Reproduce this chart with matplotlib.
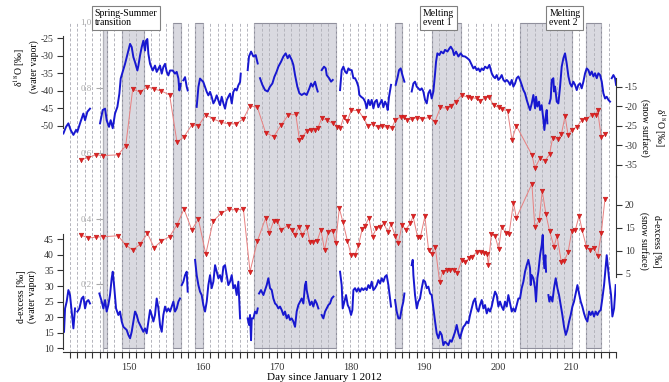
import numpy as np
import matplotlib.pyplot as plt
from matplotlib.ticker import MultipleLocator

plt.rcParams['font.family'] = ['Liberation Serif', 'DejaVu Serif']
plt.rcParams['mathtext.fontset'] = 'stix'
plt.rcParams['axes.unicode_minus'] = False

nan = np.nan

# shaded periods (day of year 2012)
periods = [(146.5, 147.0), (149, 152), (156, 157), (159, 160), (167, 178),
           (186, 187), (191, 195), (203, 210), (212, 214)]
sample_days = list(range(142, 216))

# --- water vapour d18O (permil), NaN marks gaps in the record ---
vap_d18o_day = [
    141.10, 141.46, 141.78, 142.09, 142.46, 142.82, 142.9,
    143.00, 143.36, 143.81, 144.04, 144.35, 144.71, 145.4,
    146.07, 146.43, 146.75, 146.97, 147.29, 147.51, 147.79, 148.10, 148.42, 148.69,
    148.87, 149.14, 149.46, 149.68, 149.91, 150.14, 150.36, 150.59, 150.81, 151.13,
    151.27, 151.49, 151.72, 151.94, 152.17, 152.30, 152.48, 152.62, 152.85, 153.21,
    153.52, 153.75, 153.98, 154.20, 154.43, 154.65, 154.88, 155.11, 155.33, 155.56,
    155.92, 156.23, 156.46, 156.69, 156.82, 157.00, 157.2,
    157.36, 157.59, 157.82, 157.95, 158.5,
    159.17, 159.40, 159.62, 159.85, 160.07, 160.30, 160.53, 160.75, 160.98, 161.20,
    161.43, 161.66, 161.88, 162.11, 162.33, 162.56, 162.79, 163.01, 163.24, 163.46,
    163.69, 163.92, 164.14, 164.37, 164.59, 164.82, 165.05, 165.14, 165.6,
    166.08, 166.26, 166.54, 166.85, 167.17, 167.44, 167.6,
    167.75, 168.07, 168.43, 168.79, 169.11, 169.43, 169.70, 170.01, 170.24, 170.60,
    170.92, 171.23, 171.50, 171.73, 172.05, 172.27, 172.50, 172.81, 173.09, 173.40,
    173.76, 174.08, 174.44, 174.67, 174.89, 175.21, 175.44, 175.57, 175.8,
    176.11, 176.43, 176.66, 176.79, 177.11, 177.38, 177.61, 178.1,
    178.60, 178.82, 179.05, 179.28, 179.50, 179.73, 179.95, 180.18, 180.41, 180.63,
    180.86, 181.08, 181.22, 181.45, 181.76, 181.99, 182.21, 182.44, 182.66, 182.89,
    183.12, 183.34, 183.57, 183.79, 184.02, 184.25, 184.47, 184.70, 184.92, 185.06,
    185.24, 185.51, 185.8,
    186.14, 186.41, 186.59, 186.82, 187.05, 187.32, 187.8,
    188.31, 188.54, 188.76, 188.99, 189.21, 189.44, 189.67, 189.89, 190.12, 190.35,
    190.57, 190.80, 191.02, 191.25, 191.48, 191.61, 191.79, 192.06, 192.29, 192.60,
    192.83, 193.15, 193.42, 193.60, 193.87, 194.05, 194.32, 194.64, 194.95, 195.22,
    195.54, 195.86, 196.13, 196.44, 196.67, 196.90, 197.12, 197.35, 197.57, 197.80,
    198.03, 198.25, 198.57, 198.84, 199.16, 199.38, 199.61, 199.83, 200.06, 200.28,
    200.51, 200.74, 200.96, 201.19, 201.41, 201.64, 201.87, 202.09, 202.32, 202.54,
    202.77, 202.99, 203.22, 203.45, 203.67, 203.90, 204.12, 204.35, 204.58, 204.80,
    205.03, 205.16, 205.34, 205.57, 205.71, 205.93, 206.16, 206.29, 206.47, 206.61,
    206.70, 206.85,
    206.97, 207.15, 207.29, 207.51, 207.60, 207.74, 207.97, 208.19, 208.42, 208.64,
    208.87, 209.09, 209.32, 209.55, 209.77, 210.00, 210.22, 210.45, 210.68, 210.90,
    211.13, 211.35, 211.58, 211.81, 212.03, 212.26, 212.48, 212.71, 212.94, 213.16,
    213.39, 213.61, 213.84, 214.07, 214.29, 214.52, 214.74, 214.97, 215.19, 215.3,
    215.42, 215.65, 215.87, 216.01]
vap_d18o = [
    -52.2, -50.3, -49.3, -51.2, -52.6, -51.2, nan,
    -51.7, -49.3, -46.5, -48.4, -46.0, -45.1, nan,
    -49.3, -45.5, -45.1, -48.4, -50.3, -48.4, -50.7, -46.5, -44.6, -40.8,
    -36.5, -34.6, -32.3, -30.4, -28.5, -26.6, -27.5, -30.4, -31.8, -34.2,
    -32.8, -29.9, -27.5, -25.7, -28.5, -25.7, -25.2, -29.4, -32.3, -34.2,
    -32.8, -34.6, -33.7, -32.8, -35.1, -33.2, -32.3, -34.6, -35.6, -34.2,
    -34.2, -35.1, -34.6, -36.5, -39.9, -38.0, nan,
    -37.0, -36.1, -38.9, -39.9, nan,
    -44.6, -38.9, -36.5, -37.0, -37.5, -38.9, -40.3, -41.3, -40.3, -41.7,
    -43.6, -42.7, -41.3, -42.7, -44.1, -41.7, -43.6, -45.1, -42.7, -41.7,
    -40.8, -43.6, -40.3, -39.4, -39.9, -38.4, -37.5, -35.1, nan,
    -34.1, -30.2, -28.8, -30.2, -29.8, -32.2, nan,
    -36.4, -38.3, -39.8, -40.2, -38.8, -37.9, -36.0, -34.5, -33.1, -31.7,
    -30.2, -29.3, -30.7, -29.8, -31.2, -32.6, -35.5, -38.8, -40.7, -41.2,
    -40.7, -41.2, -39.3, -37.9, -38.8, -37.4, -39.3, -40.2, nan,
    -34.1, -33.1, -33.6, -35.5, -36.4, -37.4, -36.9, nan,
    -39.8, -34.1, -33.1, -34.5, -35.0, -33.6, -34.1, -34.1, -36.4, -36.4,
    -37.4, -38.8, -41.2, -41.7, -42.2, -43.1, -45.0, -42.6, -44.1, -42.6,
    -45.0, -43.1, -42.6, -44.7, -43.6, -42.6, -44.7, -43.1, -44.1, -45.5,
    -41.7, -38.3, nan,
    -38.3, -36.0, -34.1, -33.6, -35.5, -37.4, nan,
    -40.2, -37.9, -37.4, -38.8, -39.3, -39.8, -39.3, -40.2, -42.6, -43.6,
    -40.7, -39.8, -42.2, -40.2, -35.0, -31.7, -29.3, -29.8, -28.8, -29.3,
    -28.3, -28.8, -27.9, -27.4, -28.3, -29.8, -28.8, -30.2, -29.3, -30.1,
    -30.2, -30.7, -31.2, -32.6, -33.6, -33.1, -34.1, -33.6, -34.5, -33.6,
    -34.1, -33.1, -33.6, -32.6, -35.0, -35.9, -36.4, -35.5, -36.9, -36.4,
    -35.5, -36.9, -37.4, -36.9, -37.4, -38.3, -36.9, -38.8, -37.9, -36.4,
    -35.9, -36.9, -38.3, -39.8, -40.7, -42.6, -44.1, -45.5, -43.6, -41.2,
    -45.0, -41.7, -44.5, -43.1, -45.5, -44.1, -48.3, -51.2, -47.4, -45.5,
    -49.3, nan,
    -43.6, -42.2, -36.9, -36.4, -40.2, -38.8, -43.1, -43.6, -38.8, -33.1,
    -30.7, -29.3, -32.2, -35.9, -37.9, -38.8, -37.4, -38.3, -39.8, -38.3,
    -37.9, -39.3, -37.4, -35.0, -33.6, -34.1, -35.5, -34.5, -35.9, -35.0,
    -36.4, -35.0, -35.5, -37.4, -40.7, -42.2, -41.7, -42.6, -43.1, nan,
    -36.4, -35.5, -36.4, -38.3]

# --- water vapour d-excess (permil) ---
vap_dxs_day = [
    141.19, 141.33, 141.55, 141.78, 142.00, 142.23, 142.46, 142.68, 142.85,
    143.00, 143.27, 143.58, 143.81, 144.04, 144.26, 144.49, 144.71, 145.4,
    145.98, 146.30, 146.52, 146.75, 146.97, 147.20, 147.42, 147.65, 147.79, 147.97,
    148.24, 148.55, 148.78, 149.01, 149.23, 149.46, 149.68, 149.91, 150.14, 150.36,
    150.59, 150.81, 151.04, 151.27, 151.49, 151.72, 151.94, 152.17, 152.39, 152.62,
    152.85, 153.07, 153.30, 153.52, 153.75, 153.98, 154.20, 154.43, 154.65, 154.88,
    155.11, 155.33, 155.56, 155.78, 156.01, 156.23, 156.46, 156.69, 156.91, 157.05,
    157.14, 157.36, 157.59, 157.82, 157.95, 158.4,
    158.95, 159.17, 159.40, 159.62, 159.85, 160.07, 160.30, 160.53, 160.75, 160.98,
    161.20, 161.43, 161.66, 161.88, 162.11, 162.33, 162.56, 162.79, 163.01, 163.24,
    163.46, 163.69, 163.92, 164.14, 164.37, 164.59, 164.82, 165.05, 165.6,
    166.08, 166.26, 166.40, 166.54, 166.63, 166.85, 167.08, 167.30, 167.44, 167.53,
    167.62, 167.89, 168.21, 168.43, 168.66, 168.88, 169.11, 169.34, 169.56, 169.79,
    170.01, 170.24, 170.47, 170.69, 170.92, 171.14, 171.37, 171.60, 171.82, 172.05,
    172.27, 172.50, 172.72, 172.95, 173.18, 173.40, 173.63, 173.85, 173.99, 174.08,
    174.31, 174.53, 174.76, 174.98, 175.21, 175.44, 175.66, 175.9,
    176.11, 176.34, 176.57, 176.79, 177.02, 177.24, 177.47, 177.70, 178.1,
    178.60, 178.82, 178.96, 179.19, 179.41, 179.64, 179.86, 180.09, 180.27, 180.41,
    180.63, 180.86, 181.08, 181.31, 181.54, 181.76, 181.99, 182.21, 182.44, 182.66,
    182.89, 183.12, 183.34, 183.57, 183.79, 184.02, 184.25, 184.47, 184.70, 184.92,
    185.15, 185.37, 185.51, 185.8,
    186.05, 186.28, 186.51, 186.73, 186.96, 187.18, 187.32, 187.8,
    188.31, 188.45, 188.54, 188.76, 189.00, 189.21, 189.44, 189.67, 189.89, 190.12,
    190.35, 190.57, 190.80, 191.02, 191.25, 191.48, 191.70, 191.93, 192.15, 192.38,
    192.60, 192.83, 193.06, 193.28, 193.51, 193.73, 193.96, 194.19, 194.41, 194.64,
    194.86, 195.09, 195.32, 195.54, 195.77, 195.99, 196.22, 196.44, 196.67, 196.90,
    197.12, 197.35, 197.57, 197.80, 198.03, 198.25, 198.48, 198.70, 198.93, 199.15,
    199.38, 199.61, 199.83, 200.06, 200.28, 200.51, 200.74, 200.96, 201.19, 201.41,
    201.64, 201.87, 202.09, 202.32, 202.54, 202.77, 202.99, 203.22, 203.45, 203.67,
    203.90, 204.12, 204.35, 204.44, 204.58, 204.80, 205.03, 205.16, 205.34, 205.48,
    205.71, 205.93, 206.07, 206.16, 206.29, 206.43, 206.52, 206.7,
    206.84, 206.97, 207.15, 207.38, 207.60, 207.83, 208.06, 208.28, 208.51, 208.73,
    208.96, 209.19, 209.41, 209.64, 209.86, 210.09, 210.31, 210.54, 210.77, 210.99,
    211.22, 211.44, 211.67, 211.89, 212.12, 212.35, 212.57, 212.80, 213.02, 213.25,
    213.48, 213.70, 213.93, 214.15, 214.38, 214.61, 214.74, 214.88, 215.10, 215.33,
    215.51, 215.74, 215.96]
vap_dxs = [
    15.3, 22.8, 25.0, 28.7, 27.1, 21.8, 16.4, 22.8, nan,
    21.8, 22.8, 26.0, 26.6, 22.8, 25.0, 25.5, 24.4, nan,
    27.6, 25.0, 22.8, 25.5, 21.8, 23.9, 27.1, 32.5, 34.6, 30.3,
    22.8, 20.7, 21.8, 18.6, 16.9, 16.4, 15.9, 14.3, 13.2, 15.3,
    18.6, 21.8, 20.7, 18.6, 17.5, 16.4, 15.3, 16.4, 14.8, 18.6,
    22.3, 20.7, 18.6, 20.7, 26.0, 22.8, 17.5, 15.3, 20.7, 23.4,
    21.8, 22.8, 21.8, 23.4, 25.0, 21.8, 22.8, 25.0, 26.0, nan,
    30.3, 31.4, 33.5, 34.6, 28.2, nan,
    38.4, 33.5, 30.3, 28.2, 27.1, 23.9, 21.8, 25.0, 30.3, 33.5,
    29.3, 31.4, 36.7, 34.6, 32.5, 33.5, 31.4, 36.2, 36.7, 33.5,
    30.3, 31.4, 33.5, 29.3, 30.3, 27.1, 31.4, 19.6, nan,
    19.6, 17.5, 20.7, 12.6, 19.6, 19.6, 21.8, 21.2, 22.8, nan,
    27.6, 28.7, 27.1, 28.7, 30.3, 32.5, 29.3, 28.7, 26.0, 24.4,
    23.9, 22.8, 23.4, 22.3, 20.7, 21.8, 19.6, 20.7, 19.1, 19.6,
    18.6, 16.9, 21.8, 23.9, 25.0, 26.0, 24.4, 30.3, 31.4, 28.7,
    26.0, 23.9, 25.0, 23.4, 25.5, 24.4, 22.8, nan,
    20.7, 19.6, 21.8, 22.8, 23.9, 24.4, 26.0, 26.6, nan,
    34.6, 30.3, 22.8, 25.0, 27.1, 23.9, 22.8, 20.7, 22.3, 28.7,
    29.3, 28.2, 29.3, 28.2, 29.3, 28.7, 29.3, 28.7, 30.3, 29.3,
    31.4, 28.7, 29.3, 30.3, 31.9, 30.8, 32.5, 31.4, 33.0, 33.5,
    30.3, 26.0, 23.4, nan,
    25.5, 21.8, 19.6, 19.6, 22.8, 25.0, 27.6, nan,
    36.7, 38.4, 33.5, 27.1, 22.8, 25.0, 26.0, 29.3, 31.9, 31.4,
    29.3, 29.8, 27.6, 27.1, 22.8, 18.6, 14.8, 13.2, 15.3, 14.3,
    11.0, 12.1, 11.6, 11.0, 12.6, 12.1, 13.7, 15.3, 17.5, 14.8,
    13.2, 15.3, 16.9, 17.5, 18.6, 18.0, 20.7, 22.8, 25.0, 26.0,
    22.8, 21.8, 23.9, 25.5, 22.8, 23.9, 21.2, 22.8, 21.8, 23.4,
    26.0, 28.2, 27.1, 23.4, 25.0, 23.4, 22.3, 25.0, 23.4, 27.1,
    24.4, 21.8, 22.8, 21.8, 23.9, 26.0, 26.0, 29.3, 31.4, 34.6,
    36.7, 38.4, 35.7, 30.3, 33.5, 32.5, 29.3, 25.0, 32.5, 34.6,
    39.9, 43.2, 46.4, 39.9, 35.7, 39.9, 34.6, nan,
    27.1, 25.0, 26.6, 25.0, 29.3, 32.5, 29.3, 27.1, 23.9, 20.7,
    16.9, 14.3, 15.9, 18.6, 20.7, 23.4, 25.0, 27.6, 30.3, 27.6,
    25.0, 23.4, 21.2, 19.6, 18.6, 21.8, 20.7, 21.8, 20.2, 21.8,
    20.7, 21.8, 22.3, 26.0, 30.3, 36.2, 39.9, 36.7, 31.4, 27.1,
    20.2, 22.8, 30.3]

# --- snow surface samples ---
snow_d18o_day = [
    143.45, 144.5, 145.5, 146.5, 148.5, 149.55, 150.5, 151.5, 152.5, 153.4,
    154.4, 155.5, 156.5, 157.45, 158.5, 159.4, 160.4, 161.4, 162.5, 163.5,
    164.5, 165.5, 166.4, 167.4, 168.5, 169.6, 170.6, 171.6, 172.6, 173.1,
    173.5, 174.1, 174.6, 175.2, 175.6, 176.1, 176.8, 177.6, 178.2, 178.6,
    179.1, 179.6, 180.1, 181.1, 181.8, 182.4, 183.0, 183.7, 184.3, 184.9,
    185.6, 186.1, 186.8, 187.2, 187.7, 188.3, 189.0, 189.7, 190.7, 191.45,
    192.2, 193.1, 193.6, 194.3, 195.1, 195.9, 196.4, 197.1, 197.6, 198.3,
    198.8, 199.4, 200.1, 200.5, 201.3, 201.9, 202.5, 204.6, 205.0, 205.7,
    206.4, 207.0, 207.4, 208.1, 208.6, 209.1, 209.5, 210.0, 210.7, 211.4,
    212.0, 212.7, 213.3, 213.5, 214.0, 214.5]
snow_d18o = [
    -33.7, -33.1, -32.4, -32.6, -32.4, -30.1, -15.6, -16.4, -15.0, -15.6,
    -16.1, -17.1, -29.2, -27.8, -24.8, -25.0, -22.2, -23.2, -24.1, -24.5,
    -24.5, -23.2, -19.9, -20.3, -26.7, -27.8, -24.8, -22.2, -22.1, -28.6,
    -27.8, -26.3, -26.1, -26.1, -25.5, -23.1, -23.5, -24.4, -25.2, -25.6,
    -22.8, -23.8, -21.0, -21.1, -23.1, -25.0, -24.5, -25.4, -25.0, -25.4,
    -25.6, -23.5, -22.7, -22.8, -23.5, -23.3, -22.9, -23.3, -22.8, -24.0,
    -20.3, -20.5, -19.9, -18.8, -17.1, -17.7, -17.8, -18.0, -18.6, -17.8,
    -17.6, -19.7, -20.3, -20.8, -21.1, -28.6, -25.0, -32.4, -35.8, -33.3,
    -33.9, -32.2, -28.2, -28.4, -27.1, -22.5, -27.3, -26.1, -25.2, -23.5,
    -23.3, -22.2, -22.2, -21.0, -27.9, -27.2]

snow_dxs_day = [
    143.45, 144.5, 145.5, 146.5, 148.5, 149.55, 150.5, 151.5, 152.5, 153.4,
    154.4, 155.5, 156.5, 157.45, 158.5, 159.4, 160.4, 161.4, 162.5, 163.5,
    164.5, 165.5, 166.4, 167.4, 168.5, 169.0, 169.6, 170.1, 170.6, 171.5,
    172.1, 172.5, 173.0, 173.5, 174.1, 174.5, 174.95, 175.5, 176.0, 176.5,
    177.0, 177.6, 178.0, 178.5, 179.0, 179.6, 180.1, 180.6, 181.1, 181.6,
    182.0, 182.5, 183.0, 183.5, 184.0, 184.5, 185.1, 185.5, 186.1, 186.5,
    187.0, 187.5, 188.1, 188.5, 189.1, 189.5, 190.1, 190.6, 191.05, 191.5,
    192.1, 192.5, 193.1, 193.5, 194.1, 194.5, 195.1, 195.5, 196.1, 196.5,
    197.1, 197.7, 198.1, 198.5, 198.7, 199.1, 199.6, 200.1, 200.5, 201.1,
    201.5, 202.1, 202.5, 204.6, 205.0, 205.6, 206.0, 206.5, 207.0, 207.6,
    208.0, 208.6, 209.0, 209.5, 210.0, 210.5, 211.0, 211.4, 212.0, 212.5,
    213.0, 213.5, 214.0, 214.5]
snow_dxs = [
    13.5, 12.8, 13.0, 13.1, 13.3, 11.3, 10.2, 11.5, 13.8, 10.7,
    12.2, 13.1, 15.7, 19.1, 14.6, 16.9, 9.3, 16.5, 18.2, 19.1,
    18.9, 19.1, 5.5, 12.2, 17.1, 13.8, 16.5, 16.5, 14.6, 15.5,
    14.6, 13.5, 15.3, 13.5, 15.1, 12.0, 12.0, 12.2, 14.6, 10.2,
    14.1, 14.3, 11.7, 19.3, 16.2, 12.2, 9.1, 9.1, 11.2, 14.8,
    15.5, 17.2, 13.1, 14.9, 15.1, 16.0, 14.1, 15.8, 13.3, 11.7,
    15.7, 14.6, 16.0, 17.5, 13.1, 13.1, 17.5, 10.2, 9.3, 10.9,
    3.2, 5.5, 5.9, 5.8, 5.9, 5.3, 8.0, 7.5, 8.5, 8.7,
    9.8, 9.7, 9.6, 9.3, 7.0, 13.6, 13.3, 10.4, 15.3, 13.8,
    13.6, 20.5, 17.2, 24.6, 15.1, 16.7, 23.1, 18.0, 14.3, 10.9,
    13.3, 7.5, 7.9, 9.7, 14.3, 14.6, 17.7, 14.6, 10.8, 10.2,
    10.6, 8.9, 13.8, 21.3]

W, H = 669, 382
fig = plt.figure(figsize=(W / 100, H / 100), dpi=100)
rect = [63 / W, 30 / H, 553 / W, 329.7 / H]
xlim = (141.05, 216.0)

# base axes: shaded periods, daily dashed lines, day axis, grey 0-1 scale
ax = fig.add_axes(rect)
ax.set_xlim(*xlim)
ax.set_ylim(-0.0075, 1.0)
for a, b in periods:
    ax.axvspan(a, b, ymin=0.012, ymax=0.999, facecolor='#d9d9e0',
               edgecolor='#8f8f9c', lw=0.8, zorder=1)
for d in sample_days:
    ax.axvline(d, ymin=0, ymax=0.999, color='#b4b4bc', lw=0.7,
               ls=(0, (3, 2)), zorder=2)
ax.spines[['top', 'right']].set_visible(False)
ax.spines['left'].set_position(('data', 146.5))
ax.spines['left'].set_color('#b0b0b8')
ax.set_yticks([0.2, 0.4, 0.6, 0.8, 1.0])
ax.tick_params(axis='y', colors='#a8a8a8', labelsize=6.5, length=5, width=0.8)
ax.xaxis.set_major_locator(MultipleLocator(10))
ax.xaxis.set_minor_locator(MultipleLocator(1))
ax.tick_params(axis='x', which='both', direction='out', length=4, width=0.8,
               labelsize=7.5, pad=4, colors='#333333')
ax.spines['bottom'].set_color('#333333')


def overlay(ylim, side, bounds, ticks):
    a = fig.add_axes(rect)
    a.patch.set_visible(False)
    a.set_xlim(*xlim)
    a.set_ylim(*ylim)
    a.set_xticks([])
    for s in a.spines.values():
        s.set_visible(False)
    sp = a.spines[side]
    sp.set_visible(True)
    sp.set_bounds(*bounds)
    sp.set_color('#333333')
    a.yaxis.set_ticks_position(side)
    a.set_yticks(ticks)
    a.tick_params(axis='y', labelsize=7, length=4, width=0.8, pad=2.5,
                  colors='#333333')
    return a


ax_sd = overlay((-82.77, 1.45), 'right', (-38.0, -12.85), [-35, -30, -25, -20, -15])
ax_sx = overlay((-11.96, 59.7), 'right', (4.3, 26.2), [5, 10, 15, 20])
ax_vd = overlay((-114.63, -20.43), 'left', (-50.7, -24.3), [-50, -45, -40, -35, -30, -25])
ax_vx = overlay((8.81, 114.7), 'left', (9.7, 46.6), [10, 15, 20, 25, 30, 35, 40, 45])

for a, xd, yd in [(ax_sd, snow_d18o_day, snow_d18o), (ax_sx, snow_dxs_day, snow_dxs)]:
    a.plot(xd, yd, color='#e88080', lw=0.7, zorder=3)
    a.plot(xd, yd, ls='none', marker='v', ms=3.3, mfc='#e02222', mec='#c01818',
           mew=0.4, zorder=4)

ax_vd.plot(vap_d18o_day, vap_d18o, color='#1818d0', lw=1.4)
ax_vx.plot(vap_dxs_day, vap_dxs, color='#1818d0', lw=1.4)

# period labels
box = dict(boxstyle='square,pad=0.3', fc='white', ec='#808080', lw=0.8)
for x, txt in [(145.33, 'Spring-Summer\ntransition'), (189.8, 'Melting\nevent 1'),
               (206.97, 'Melting\nevent 2')]:
    ax.text(x, 1.042, txt, ha='left', va='top', fontsize=7, linespacing=1.1,
            bbox=box, clip_on=False, zorder=6)

lab = dict(fontsize=7, ha='center', va='center', multialignment='center',
           linespacing=1.3)
fig.text(25 / W, 1 - 67 / H, 'δ$^{18}$O [‰]\n(water vapor)', rotation=90, **lab)
fig.text(27 / W, 1 - 297 / H, 'd-excess [‰]\n(water vapor)', rotation=90, **lab)
fig.text(654 / W, 1 - 128 / H, 'δ$^{18}$O [‰]\n(snow surface)', rotation=270, **lab)
fig.text(650 / W, 1 - 241 / H, 'd-excess [‰]\n(snow surface)', rotation=270, **lab)
fig.text(324 / W, 1 - 377 / H, 'Day since January 1 2012', fontsize=8,
         ha='center', va='center')

fig.savefig('out.png', dpi=100)
